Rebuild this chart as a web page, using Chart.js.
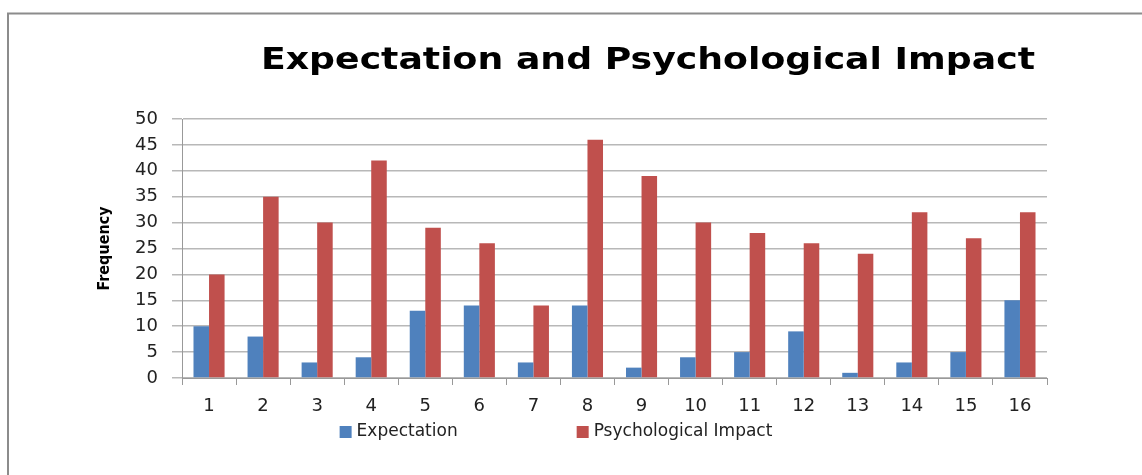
<!DOCTYPE html>
<html>
<head>
<meta charset="utf-8">
<script src="https://cdn.jsdelivr.net/npm/chart.js@4/dist/chart.umd.min.js"></script>
<style>
  html, body { margin: 0; padding: 0; background: #fff; }
  #wrap { width: 1142px; height: 475px; }
</style>
</head>
<body>
<div id="wrap"><canvas id="barchart" width="1142" height="475"></canvas></div>
<script>
const categories = ['1', '2', '3', '4', '5', '6', '7', '8', '9', '10', '11', '12', '13', '14', '15', '16'];
const expectation = [10, 8, 3, 4, 13, 14, 3, 14, 2, 4, 5, 9, 1, 3, 5, 15];
const psychImpact = [20, 35, 30, 42, 29, 26, 14, 46, 39, 30, 28, 26, 24, 32, 27, 32];
const chartTitle = 'Expectation and Psychological Impact';

// frame, title and legend drawn by hand so they sit where the original puts them
const decor = {
    id: 'decor',
    beforeDraw(chart) {
        const c = chart.ctx;
        c.save();
        c.fillStyle = '#fff';
        c.fillRect(0, 0, chart.width, chart.height);
        c.strokeStyle = '#8c8c8c';
        c.lineWidth = 2;
        c.beginPath();
        c.moveTo(8, 475);
        c.lineTo(8, 13.5);
        c.lineTo(1142, 13.5);
        c.stroke();
        c.restore();
    },
    afterDraw(chart) {
        const c = chart.ctx;
        // title
        c.save();
        c.font = 'bold 31px "DejaVu Sans"';
        c.fillStyle = '#000';
        c.textBaseline = 'alphabetic';
        const w = c.measureText(chartTitle).width;
        c.translate(261, 69);
        c.scale(774 / w, 1);
        c.fillText(chartTitle, 0, 0);
        c.restore();

        // legend
        c.save();
        c.font = '17px "DejaVu Sans"';
        c.textBaseline = 'middle';
        const sets = chart.data.datasets;
        const box = 12, gap = 5, spacing = 119;
        let total = 0;
        sets.forEach((d, i) => {
            total += box + gap + c.measureText(d.label).width;
            if (i < sets.length - 1) total += spacing;
        });
        let x = 556 - total / 2;
        const y = 432;
        sets.forEach(d => {
            c.fillStyle = d.backgroundColor;
            c.fillRect(x, y - box / 2, box, box);
            x += box + gap;
            c.fillStyle = '#222';
            c.fillText(d.label, x, y);
            x += c.measureText(d.label).width + spacing;
        });
        c.restore();
    }
};

const ctx2 = document.getElementById('barchart').getContext('2d');
const barchart = new Chart(ctx2, {
    type: 'bar',
    data: {
        labels: categories,
        datasets: [{
            label: 'Expectation',
            data: expectation,
            backgroundColor: '#4f81bd',
            borderWidth: 0
        }, {
            label: 'Psychological Impact',
            data: psychImpact,
            backgroundColor: '#c0504d',
            borderWidth: 0
        }]
    },
    options: {
        responsive: false,
        animation: false,
        layout: { padding: { left: 88, right: 95, top: 119, bottom: 57 } },
        datasets: { bar: { categoryPercentage: 0.575, barPercentage: 1 } },
        plugins: {
            title: { display: false },
            tooltip: { enabled: false },
            legend: { display: false }
        },
        scales: {
            x: {
                offset: true,
                grid: { drawOnChartArea: false, tickLength: 7, color: '#999', offset: true },
                border: { color: '#999' },
                ticks: { color: '#222', padding: 11, font: { family: 'DejaVu Sans', size: 18 } },
                afterFit(s) { s.height = 40; }
            },
            y: {
                min: 0,
                max: 50,
                ticks: { stepSize: 5, autoSkip: false, color: '#222', padding: 14, font: { family: 'DejaVu Sans', size: 18 } },
                grid: { color: '#b8b8b8', lineWidth: 1.5, tickLength: 10 },
                border: { color: '#999' },
                title: {
                    display: true,
                    text: 'Frequency',
                    color: '#000',
                    padding: { top: 7, bottom: 0 },
                    font: { family: 'DejaVu Sans Condensed', size: 16, weight: 'bold' }
                },
                afterFit(s) { s.width = 94; }
            }
        }
    },
    plugins: [decor]
});
</script>
</body>
</html>
